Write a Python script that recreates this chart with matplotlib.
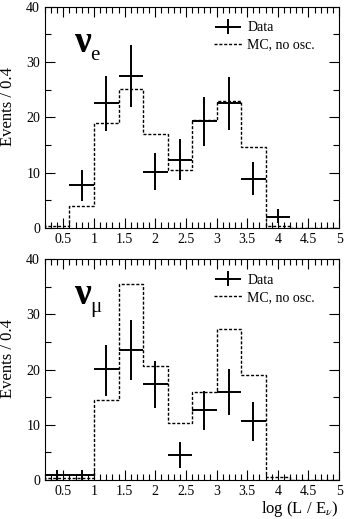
import matplotlib
matplotlib.use("Agg")
import matplotlib.pyplot as plt
import numpy as np
from matplotlib.ticker import MultipleLocator
from matplotlib.legend_handler import HandlerErrorbar

plt.rcParams['font.family'] = ['Liberation Serif', 'DejaVu Serif']
plt.rcParams['mathtext.fontset'] = 'stix'

# bin edges of log(L/E) and MC expectation (no oscillation)
edges = [0.2, 0.6, 1.0, 1.4, 1.8, 2.2, 2.6, 3.0, 3.4, 3.8, 4.2, 4.6, 5.0]
mc_e = [0.3, 3.9, 19.0, 25.1, 16.9, 10.5, 19.6, 23.0, 14.7, 0.4, 0.0, 0.0]
mc_mu = [0.4, 0.4, 14.4, 35.4, 20.7, 10.3, 16.0, 27.4, 19.0, 0.5, 0.0, 0.0]

# data points
x_e = [0.8, 1.2, 1.6, 2.0, 2.4, 2.8, 3.2, 3.6, 4.0]
y_e = [7.7, 22.5, 27.5, 10.1, 12.3, 19.3, 22.5, 8.9, 2.0]
lo_e = [2.8, 4.9, 5.6, 3.3, 3.6, 4.5, 4.8, 2.9, 1.2]
hi_e = [2.8, 5.0, 5.6, 3.4, 3.7, 4.4, 4.8, 3.0, 1.4]

x_mu = [0.4, 0.8, 1.2, 1.6, 2.0, 2.4, 2.8, 3.2, 3.6]
y_mu = [1.0, 1.0, 20.1, 23.5, 17.3, 4.6, 12.6, 16.0, 10.6]
lo_mu = [0.9, 0.9, 4.8, 5.4, 4.2, 2.4, 3.5, 4.2, 3.5]
hi_mu = [0.9, 0.9, 4.4, 5.4, 4.2, 2.2, 3.5, 4.1, 3.6]

fig = plt.figure(figsize=(3.46, 5.19), dpi=100)
ax1 = fig.add_axes([0.130, 0.561, 0.850, 0.426])
ax2 = fig.add_axes([0.130, 0.075, 0.850, 0.426])


def panel(ax, mc, x, y, lo, hi, nu, sub):
    ax.stairs(mc, edges, color='black', ls=(0, (2.2, 1.3)), lw=1.0,
              label='MC, no osc.')
    eb = ax.errorbar(x, y, xerr=0.2, yerr=[lo, hi], fmt='none',
                     ecolor='black', elinewidth=1.4, capsize=0, label='Data')
    ax.set_xlim(0.2, 5.0)
    ax.set_ylim(0, 40)
    ax.xaxis.set_major_locator(MultipleLocator(0.5))
    ax.xaxis.set_minor_locator(MultipleLocator(0.1))
    ax.yaxis.set_major_locator(MultipleLocator(10))
    ax.yaxis.set_minor_locator(MultipleLocator(5))
    ax.tick_params(which='both', direction='in', top=True, right=True,
                   labelsize=10)
    ax.tick_params(which='major', length=7, width=0.8)
    ax.tick_params(which='minor', length=4, width=0.8)
    ax.set_xticks([0.5, 1, 1.5, 2, 2.5, 3, 3.5, 4, 4.5, 5])
    ax.set_xticklabels(['0.5', '1', '1.5', '2', '2.5', '3', '3.5', '4',
                        '4.5', '5'])
    ax.set_ylabel('Events / 0.4', fontsize=12)
    ax.yaxis.set_label_coords(-0.097, 0.55)
    for s in ax.spines.values():
        s.set_linewidth(0.8)
    h, l = ax.get_legend_handles_labels()
    ax.legend(h[::-1], l[::-1], loc='upper right', frameon=False,
              fontsize=10, handlelength=2.0, handletextpad=0.4,
              borderaxespad=0.5, labelspacing=0.3,
              bbox_to_anchor=(0.96, 0.99),
              handler_map={type(eb): HandlerErrorbar(xerr_size=0.95,
                                                     yerr_size=0.55)})
    ax.text(0.10, 0.795, nu, transform=ax.transAxes, fontsize=27,
            fontweight='bold')
    ax.text(0.155, 0.76, sub, transform=ax.transAxes, fontsize=15)


panel(ax1, mc_e, x_e, y_e, lo_e, hi_e, 'ν', 'e')
panel(ax2, mc_mu, x_mu, y_mu, lo_mu, hi_mu, 'ν', 'μ')

ax2.set_xlabel(r'log (L / E$_\nu$)', fontsize=12, loc='right', labelpad=1)

fig.savefig('out.png', dpi=100)
